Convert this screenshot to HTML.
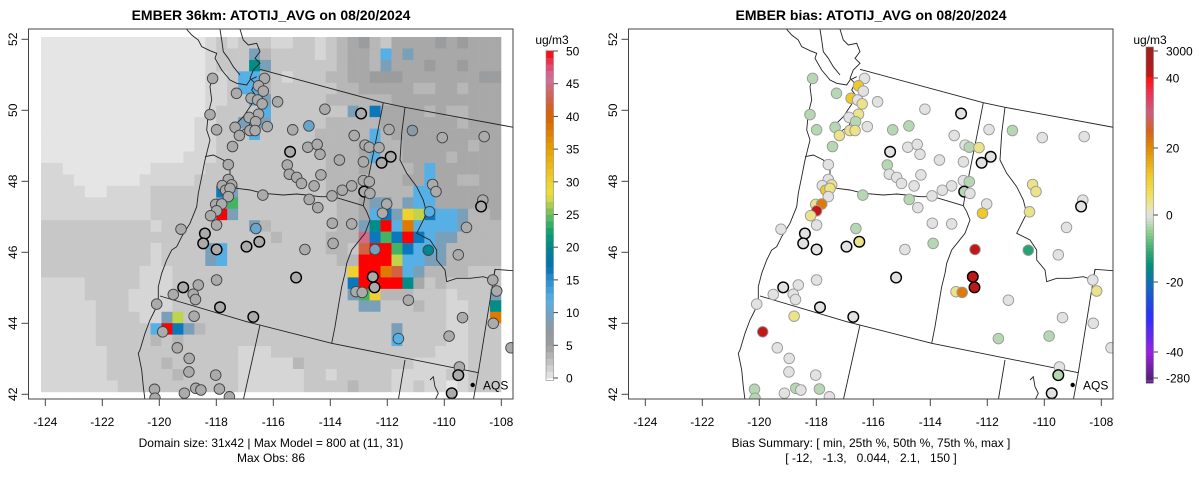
<!DOCTYPE html>
<html><head><meta charset="utf-8"><style>
html,body{margin:0;padding:0;background:#fff;}
svg{display:block;font-family:"Liberation Sans",sans-serif;}
</style></head><body>
<svg id="c" width="1200" height="479" xmlns="http://www.w3.org/2000/svg"></svg>
<script>
// ---------- DATA ----------
const gridRows = [
"aaaaaa aaaaaa aaabcb cccbbc cbcdef dceeee fefeee",
"aaaaaa aaaaaa aaabcc cSdccc cbcdee dBeSee eeeeee",
"aaaaaa aaaaaa aaabcc cTSccc cccdee dSeeef eefeee",
"aaaaaa aaaaaa aaabbc BBdcbc ccddee fffeee eeeeff",
"aaaaaa aaaaaa aaabbc BBdccc cccdde eeeedd eedeee",
"aaaaaa aaaaaa aaabbc cBSccc ccdddd ddeeee eeeeee",
"aaaaaa aaaaaa aaabcc ccBccc ccccSd Deeeed eddeee",
"aaaaaa aaaaaa aabbcc SBSccc ccdddd deeeee eedeee",
"aaaaaa aaaaaa aabbcc cBcccc cddddd Bdeeee eeeeee",
"aaaaaa aaaaaa aabbcc cccccc cdddde Bddeee eeedee",
"aaaaaa aaaaaa abbbcc cccccc ccddde Bddeee edeeee",
"bbaaaa aaaabb bbbccc cccccc ccddde ddddeB eeeeee",
"bbbaaa aaabbb bbcccc cccccc ccdddd dddeeB eeddee",
"bbbbaa bbbbcc ccccDS cccccc ccdddd ddddBB eeeeee",
"bbbbbb bbbbcc ccccSG cccccc cccdde SSdSBB eeeeee",
"bbbbbb bbbbcc ccccRS cccccc cccdde BDSYLD BBSdde",
"cccccc ccccbc cccccc cSdccc cccddS TRBOBB BBSddd",
"cccccc cccccc cccccc cccdcc ccdddP DGDRDB SSdddd",
"cccccc ccccbc cccSBc cccccc ccddcM RRGDBB Sddddd",
"cccccc ccccbc cccSBc cccccc cccddR RRLBBS Sddddd",
"cccccc cccbbb cccccc cccccc ccccYR ROMBSd dddccc",
"bbbbcc cccbbb cccccc cccccc ccccDR RRRTec dccccc",
"bbbbcc ccbbbb cccccc cccccc ccccSG Ydddcc cbcccS",
"bbbbbc ccbbbb cccccc cccccc cccccS Scccdc cbbccT",
"bbbbbc cccbbS Lccccc cccccc cccccc cccccc cbbccO",
"bbbbbc ccccBR DSdccc cccccc cccccc ccSccc cbbccc",
"bbbbbc ccccdc dccccc cccccc cccccc ccBccc cbbccc",
"bbbbbb cccccc cccccc bbbccc cccccc cccccc bbbccc",
"bbbbbb cccccd cccccc bbbbbd cccccc ccccbb bbbccc",
"bbbbbb cccccc dccccc bbbbbb ccbccc ccbbbb bcbccc",
"bbbbbb bccccc cccccc bbbbbb ccccdc ccbbcb babccc"
];
const codeValues = {a:0.2,b:1.2,c:2.2,d:3.2,e:4.2,f:5.3,S:9,B:12,D:16.5,T:20.5,G:24,L:27,Y:30,O:38,M:42.5,P:45,R:50};
const stationLon = [-118.13,-116.31,-116.52,-116.35,-117.29,-116.78,-116.55,-116.39,-115.85,-118.22,-116.52,-116.85,-116.62,-116.21,-117.34,-117.99,-116.82,-116.64,-117.19,-114.19,-112.92,-115.32,-114.75,-113.16,-111.94,-111.12,-110.07,-108.60,-117.43,-115.41,-114.79,-114.46,-114.36,-113.68,-112.78,-112.63,-112.29,-111.88,-112.20,-112.84,-117.58,-115.51,-115.44,-115.18,-115.01,-114.33,-114.57,-113.58,-113.25,-112.84,-112.63,-112.81,-112.61,-117.58,-117.79,-117.46,-117.67,-117.52,-117.58,-116.37,-114.74,-114.44,-113.94,-110.41,-110.29,-112.02,-112.17,-110.52,-108.65,-108.71,-118.02,-117.81,-117.99,-118.20,-117.99,-119.24,-118.40,-118.46,-117.99,-116.94,-116.49,-116.61,-113.93,-113.25,-109.22,-114.89,-113.90,-112.43,-110.56,-109.51,-115.20,-117.99,-118.63,-119.16,-119.51,-118.81,-118.73,-112.51,-112.45,-113.10,-112.88,-111.26,-108.30,-108.16,-120.09,-117.87,-116.70,-118.78,-109.36,-108.28,-119.88,-119.37,-118.95,-111.61,-109.83,-107.66,-118.96,-118.02,-109.47,-109.51,-120.17,-119.12,-118.72,-118.54,-117.89,-109.74,-117.54,-120.15];
const stationLat = [50.90,50.90,50.69,50.54,50.48,50.34,50.29,50.18,50.24,49.88,49.89,49.80,49.68,49.54,49.52,49.45,49.43,49.43,49.29,50.03,49.91,49.45,49.56,49.29,49.46,49.43,49.23,49.26,48.98,48.83,48.96,49.04,48.76,48.60,49.02,48.96,48.95,48.69,48.52,48.55,48.47,48.46,48.20,48.11,47.94,48.18,47.87,47.75,47.87,48.02,47.99,47.71,47.66,48.05,47.88,47.90,47.75,47.80,47.57,47.61,47.49,47.26,47.59,47.91,47.71,47.36,47.10,47.14,47.47,47.29,47.35,47.36,47.17,47.03,46.77,46.65,46.53,46.25,46.08,46.16,46.30,46.67,46.82,46.80,46.70,46.08,46.25,46.08,46.06,45.93,45.29,45.22,45.08,45.01,44.81,44.82,44.67,45.31,45.01,44.89,44.87,44.65,45.22,44.91,44.54,44.45,44.18,44.20,44.16,44.00,43.76,43.31,43.01,43.57,43.64,43.31,42.63,42.54,42.77,42.54,42.14,42.03,42.17,42.12,42.15,42.03,41.93,41.89];
// observed concentration (ug/m3), 4 = typical gray
const stationObs = [4,4,4,4,4,4,4,4,4,4,4,4,4,4,4,4,4,4,4,4,4,4,10,4,4,8,4,4,4,4,4,4,4,4,4,4,4,4,4,4,4,4,4,4,4,4,4,4,4,4,4,4,4,4,4,4,4,4,4,4,4,4,4,4,4,4,4,12,4,4,4,4,4,4,4,4,4,4,4,4,4,10,4,4,4,4,4,9,20,4,4,4,4,4,4,4,4,4,4,4,4,4,4,4,4,4,4,4,4,4,4,4,4,12,4,4,4,4,4,4,4,4,4,4,4,4,4,4];
// model bias (ug/m3)
const stationBias = [-3,0,12,0,-3,12,0,4,0,-3,4,0,-3,0,-3,-3,4,4,4,0,0,-3,-3,0,0,-3,0,0,-3,0,0,0,0,0,0,-3,4,0,0,0,0,-3,0,0,0,0,0,0,0,0,-3,-3,0,0,0,4,12,4,0,-3,-3,0,0,4,4,0,12,4,0,0,4,22,45,4,0,0,0,0,0,0,4,-3,0,0,0,0,-3,45,-12,0,0,0,0,0,0,0,0,45,45,4,22,0,0,4,0,0,0,4,0,0,45,0,0,-3,-3,0,0,0,0,-3,-3,0,-3,0,-3,0,0,-3];
// indices of stations drawn with heavy outline
const boldStations = [20,29,37,38,51,69,76,77,78,79,80,90,93,97,98,105,106,119,125];
const concTicks = [0,5,10,15,20,25,30,35,40,45,50];
const biasTickLabels = ["3000","40","20","0","-20","-40","-280"];
const biasTickValues = [3000,40,20,0,-20,-40,-280];
const lonTicks = [-124,-122,-120,-118,-116,-114,-112,-110,-108];
const latTicks = [42,44,46,48,50,52];

// ---------- SCALES ----------
const NS="http://www.w3.org/2000/svg";
const svg=document.getElementById('c');
function el(t,a,p){const e=document.createElementNS(NS,t);for(const k in a)e.setAttribute(k,a[k]);(p||svg).appendChild(e);return e;}
function xLon(lon,off){return off+45.3+(lon+124)*28.5;}
function yLat(lat){return 39.3+(52-lat)*35.5;}
function hex(c){return [parseInt(c.slice(1,3),16),parseInt(c.slice(3,5),16),parseInt(c.slice(5,7),16)];}
function interp(stops,v){
  if(v<=stops[0][0])return stops[0][1];
  for(let i=1;i<stops.length;i++){if(v<=stops[i][0]){const a=stops[i-1],b=stops[i];const t=(v-a[0])/(b[0]-a[0]);const A=hex(a[1]),B=hex(b[1]);return 'rgb('+A.map((x,j)=>Math.round(x+(B[j]-x)*t)).join(',')+')';}}
  return stops[stops.length-1][1];
}
const concStops=[[0,'#e8e8e8'],[5,'#9c9c9c'],[8,'#8a9aa6'],[10,'#6aa6cc'],[12,'#56b0e6'],[15,'#2a90d2'],[17,'#0070b4'],[20,'#00868e'],[22,'#00a070'],[24,'#44b464'],[26,'#98c850'],[28,'#e6e040'],[30,'#f0d030'],[35,'#e8a000'],[40,'#d86000'],[43,'#d06450'],[46,'#d070a0'],[48,'#e84060'],[50,'#ff0000']];
const biasStops=[[-280,'#5a2080'],[-40,'#9a20e0'],[-30,'#2a30ff'],[-20,'#1070b0'],[-15,'#00907a'],[-10,'#40b070'],[-5,'#90d090'],[-2,'#c8dcc4'],[0,'#e2e2e2'],[2,'#e8e4b0'],[6,'#f0e060'],[12,'#f0c828'],[20,'#e08a00'],[25,'#d86020'],[30,'#c86080'],[36,'#f03050'],[40,'#ff1010'],[45,'#c01818'],[3000,'#a02020']];
function concColor(v){return interp(concStops,v);}
function biasColor(v){return interp(biasStops,v);}
function concY(v){return 378-(v/50)*327;}
const biasYv=[[-280,378],[-40,352],[-20,282],[0,215],[20,148],[40,78],[3000,51]];
function biasY(v){for(let i=1;i<biasYv.length;i++){if(v<=biasYv[i][0]){const a=biasYv[i-1],b=biasYv[i];return a[1]+(v-a[0])/(b[0]-a[0])*(b[1]-a[1]);}}return 51;}

// map outlines (panel pixel geometry)
const lines=[
[[470,28],[485,45],[505,60],[515,80],[540,92],[560,100],[555,115],[575,150],[600,180],[620,190],[650,195],[660,180],[680,170]],
[[570,28],[575,60],[580,95],[595,115],[610,140],[630,165]],
[[630,28],[640,60],[655,75],[680,70],[690,95],[675,115],[690,130],[670,150],[660,175],[675,190],[665,210],[680,230],[660,260],[640,290],[620,310],[610,330],[630,335],[655,320],[670,290],[690,270],[700,250],[695,225],[705,205],[690,190]],
[[545,180],[540,200],[545,240],[535,280],[530,330],[540,360],[530,400],[525,420]],
[[525,410],[550,405],[580,420],[600,440],[600,470],[610,500],[620,505],[660,510],[700,520],[760,525],[800,522],[830,525],[870,530],[910,530],[960,545],[1000,557]],
[[525,420],[515,470],[505,520],[500,560],[480,610],[455,650],[440,680],[425,690],[410,720],[395,760],[385,800],[385,850],[375,870],[360,900],[345,940],[330,990],[325,1000],[335,1050],[340,1100],[345,1140]],
[[1000,557],[1010,500],[1020,450],[1040,350],[1060,248]],
[[1000,557],[1010,575],[1020,600],[1005,640],[985,665],[965,690],[950,730],[945,760],[935,800],[925,860],[915,920],[905,970]],
[[390,828],[650,905],[905,970],[1345,1058]],
[[690,148],[1060,248],[1125,262],[1450,322]],
[[1125,262],[1115,340],[1110,420],[1130,460],[1160,500],[1180,540],[1190,580],[1170,620],[1160,640],[1200,660],[1220,690],[1220,720],[1245,750],[1250,785],[1280,775],[1320,775],[1360,770],[1390,780],[1395,748],[1450,752]],
[[1395,748],[1345,1058],[1330,1140]],
[[690,915],[640,1140]],
[[1125,1020],[1105,1140]],
[[1200,1080],[1210,1070],[1215,1100],[1225,1120],[1215,1140]]
];

const defs=el('defs',{});
[0,600].forEach((off,i)=>{const cp=el('clipPath',{id:'clip'+i},defs);el('rect',{x:28.5+off,y:29,width:484.5,height:370},cp);});

function panel(off,idx){
  const g=el('g',{'clip-path':'url(#clip'+idx+')'});
  
  
  if(idx===0){
    const hg=el('g',{},g);
    
    
    const lon0=-124.151,dlon=0.3843,lat0=52.065,dlat=0.3225;
    gridRows.forEach((row,r)=>{
      const s=row.replace(/ /g,'');
      for(let c=0;c<s.length;c++){
        const v=codeValues[s[c]];
        const x1=xLon(lon0+c*dlon,off),x2=xLon(lon0+(c+1)*dlon,off);
        const y1=yLat(lat0-r*dlat),y2=yLat(lat0-(r+1)*dlat);
        const cell=el('rect',{x:x1.toFixed(2),y:y1.toFixed(2),width:(x2-x1+0.3).toFixed(2),height:(y2-y1+0.3).toFixed(2),fill:concColor(v)},hg);
        
        
      }
    });
  }
  const mg=el('g',{fill:'none',stroke:'#222','stroke-width':0.9},g);
  
  
  lines.forEach(l=>{el('polyline',{points:l.map(p=>(off+30+p[0]/3).toFixed(1)+','+(20+p[1]/3).toFixed(1)).join(' ')},mg);});
  const pg=el('g',{},g);
  
  
  for(let i=0;i<stationLon.length;i++){
    const bold=boldStations.indexOf(i)>=0;
    const fill=idx===0?concColor(stationObs[i]):biasColor(stationBias[i]);
    const stroke=bold?'#000':(idx===0?'#444':'#9a9a9a');
    const c=el('circle',{cx:xLon(stationLon[i],off).toFixed(1),cy:yLat(stationLat[i]).toFixed(1),r:5.3,fill:fill,stroke:stroke,'stroke-width':bold?1.4:0.9},pg);
    
    
  }
  const fr=el('rect',{x:28.5+off,y:29,width:484.5,height:370,fill:'none',stroke:'#444','stroke-width':1});
  
  
  const lg=el('g',{});
  
  
  el('circle',{cx:472.7+off,cy:385,r:2.2,fill:'#000'},lg);
  const lt=el('text',{x:483+off,y:389.5,'font-size':12,fill:'#000'},lg);lt.textContent='AQS';
  const ax=el('g',{stroke:'#444','stroke-width':1});
  
  
  el('line',{x1:xLon(-124,off),x2:xLon(-108,off),y1:399,y2:399},ax);
  lonTicks.forEach(t=>{const x=xLon(t,off);el('line',{x1:x,x2:x,y1:399,y2:406},ax);
    const tx=el('text',{x:x,y:426,'font-size':12,'text-anchor':'middle',stroke:'none',fill:'#000'},ax);tx.textContent=t;});
  const ay=el('g',{stroke:'#444','stroke-width':1});
  
  
  el('line',{x1:28.5+off,x2:28.5+off,y1:yLat(52),y2:yLat(42)},ay);
  latTicks.forEach(t=>{const y=yLat(t);el('line',{x1:21.5+off,x2:28.5+off,y1:y,y2:y},ay);
    const tx=el('text',{x:0,y:0,'font-size':12,'text-anchor':'middle',stroke:'none',fill:'#000',transform:'translate('+(17+off)+','+y+') rotate(-90)'},ay);tx.textContent=t;});
}
panel(0,0);panel(600,1);

function txt(s,x,y,attrs,name){const t=el('text',Object.assign({x:x,y:y,'font-size':12,fill:'#000','text-anchor':'middle'},attrs||{}));t.textContent=s;
  
  return t;}
txt('EMBER 36km: ATOTIJ_AVG on 08/20/2024',271,20,{'font-size':14,'font-weight':'bold'},'model-title');
txt('EMBER bias: ATOTIJ_AVG on 08/20/2024',871,20,{'font-size':14,'font-weight':'bold'},'bias-title');
txt('Domain size: 31x42 | Max Model = 800 at (11, 31)',271,447,{},'domain-summary');
txt('Max Obs: 86',271,462,{},'max-obs');
txt('Bias Summary: [ min, 25th %, 50th %, 75th %, max ]',871,447,{},'bias-summary-header');
txt('[ -12,   -1.3,   0.044,   2.1,   150 ]',871,462,{style:'white-space:pre'},'bias-summary-values');

const cb1=el('g',{});


for(let v=0;v<50;v+=1){const ya=concY(v+1),yb=concY(v);
  el('rect',{x:546,y:ya.toFixed(2),width:7.5,height:(yb-ya+0.4).toFixed(2),fill:concColor(v+0.5)},cb1);}
el('rect',{x:546,y:concY(50)-0.5,width:7.5,height:concY(0)-concY(50)+3,fill:'none',stroke:'#888','stroke-width':0.6},cb1);
concTicks.forEach(t=>{const y=concY(t);el('line',{x1:553.5,x2:558,y1:y,y2:y,stroke:'#444'},cb1);
  const tx=el('text',{x:566,y:y+4.5,'font-size':12},cb1);tx.textContent=t;});
const u1=el('text',{x:552,y:44,'font-size':12,'text-anchor':'middle'},cb1);u1.textContent='ug/m3';

const cb2=el('g',{});


for(let y=47;y<381;y+=3){
  let v=0;for(let i=1;i<biasYv.length;i++){const a=biasYv[i-1],b=biasYv[i];const yc=y+1.5;if(yc<=a[1]&&yc>=b[1]){v=a[0]+(yc-a[1])/(b[1]-a[1])*(b[0]-a[0]);}}
  if(y+1.5<51)v=3000;if(y+1.5>378)v=-280;
  el('rect',{x:1146,y:y,width:7.5,height:3.4,fill:biasColor(v)},cb2);}
el('rect',{x:1146,y:47,width:7.5,height:334,fill:'none',stroke:'#888','stroke-width':0.6},cb2);
biasTickValues.forEach((t,i)=>{const y=biasY(t);el('line',{x1:1153.5,x2:1158,y1:y,y2:y,stroke:'#444'},cb2);
  const tx=el('text',{x:1166,y:y+4.5,'font-size':12},cb2);tx.textContent=biasTickLabels[i];});
const u2=el('text',{x:1150,y:44,'font-size':12,'text-anchor':'middle'},cb2);u2.textContent='ug/m3';
</script>
</body></html>
